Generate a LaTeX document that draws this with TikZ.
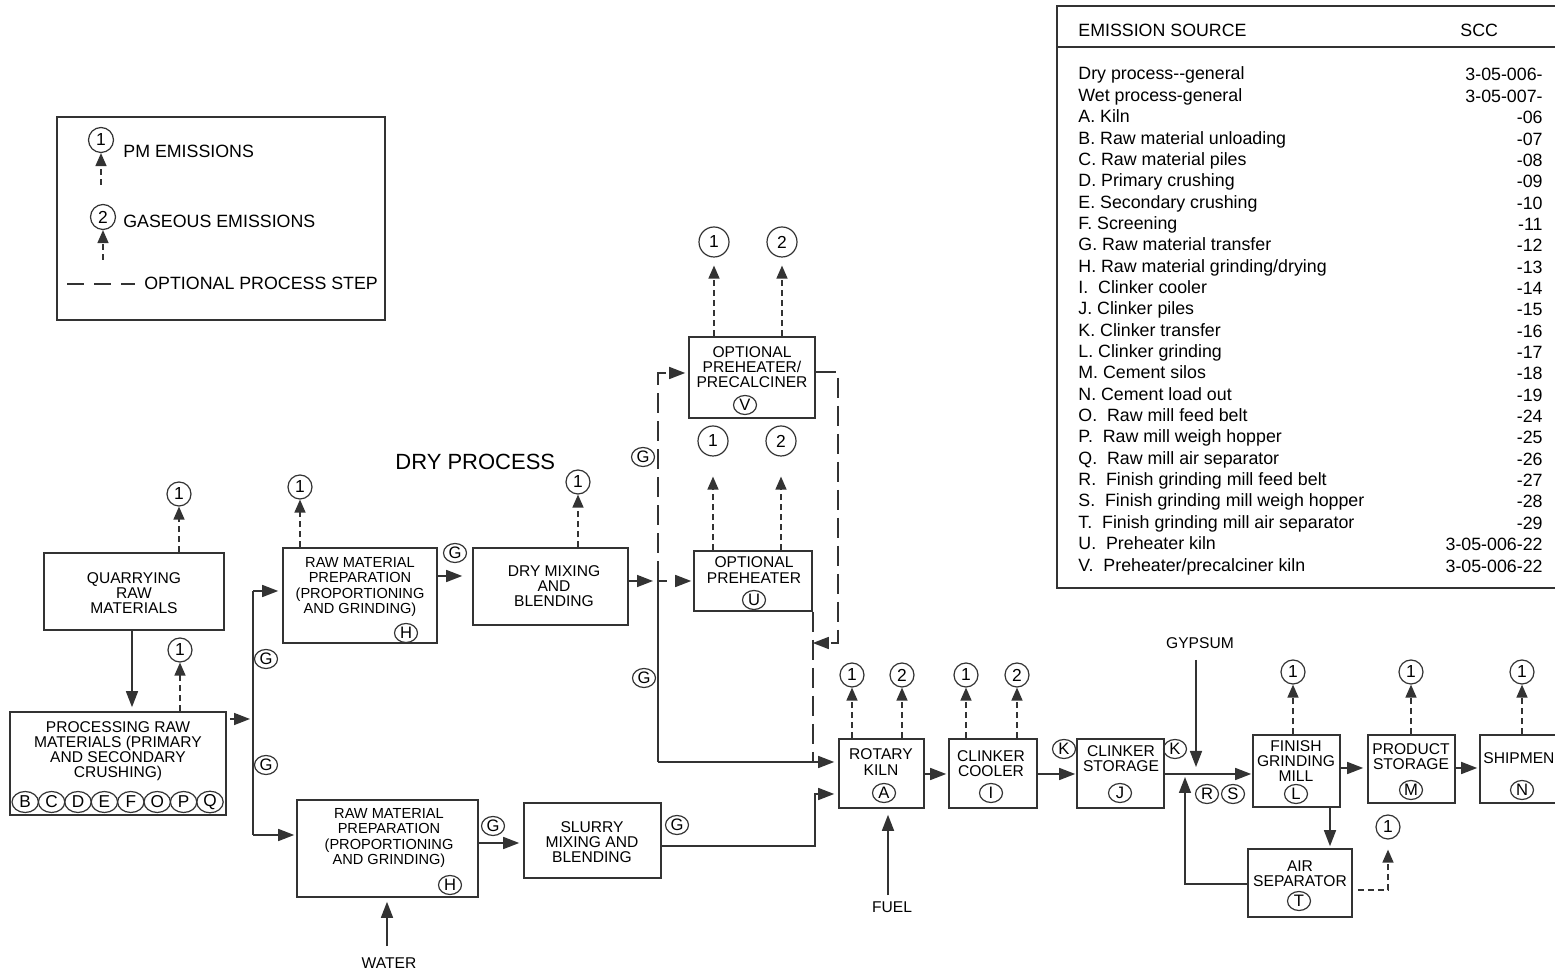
\documentclass[tikz,border=0pt]{standalone}
\usepackage{fontspec}
\setmainfont{Liberation Sans}
\usetikzlibrary{arrows.meta,shapes.geometric,fit,calc}

\newcommand{\boxsize}{\fontsize{7.8}{7.6}\selectfont}
\newcommand{\rmpsize}{\fontsize{7.3}{7.6}\selectfont}

\begin{document}
\begin{tikzpicture}[x=0.5pt,y=-0.5pt,
  box/.style={draw=black!80,line width=0.8pt,rectangle,inner sep=0pt},
  btxt/.style={align=center,inner sep=0pt,font=\boxsize},
  rtxt/.style={align=center,inner sep=0pt,font=\rmpsize},
  emc/.style={circle,draw=black!80,line width=0.6pt,minimum size=12pt,inner sep=0pt,font=\fontsize{8.7}{8.7}\selectfont},
  emcl/.style={emc,minimum size=15pt},
  mk/.style={ellipse,draw=black!80,line width=0.6pt,minimum width=11.5pt,minimum height=9.5pt,inner sep=0pt,font=\fontsize{8.3}{8.3}\selectfont},
  mkrow/.style={mk,minimum width=13.2pt,minimum height=10.5pt,font=\fontsize{8.6}{8.6}\selectfont},
  wire/.style={draw=black!80,line width=0.75pt},
  flow/.style={wire,-{Triangle[length=8pt,width=6pt]}},
  emis/.style={wire,dash pattern=on 3pt off 2pt,-{Triangle[length=6.5pt,width=5.5pt]}},
  opt/.style={wire,dash pattern=on 10pt off 4pt},
  optflow/.style={opt,-{Triangle[length=8pt,width=6pt]}},
  lgtxt/.style={anchor=base west,inner sep=0pt,font=\fontsize{8.9}{8.9}\selectfont},
  tl/.style={anchor=base west,inner sep=0pt,font=\fontsize{8.9}{8.9}\selectfont},
  tr/.style={anchor=base east,inner sep=0pt,font=\fontsize{8.9}{8.9}\selectfont},
  inlbl/.style={inner sep=0pt,font=\boxsize},
]
\useasboundingbox (0,0) rectangle (1555,972);
\clip (0,0) rectangle (1555,972);
\fill[white] (0,0) rectangle (1555,972);

% ---------------- legend ----------------
\node[box,fit={(57,117) (385,320)}] (legend) {};
\node[emc,minimum size=12.5pt] (lg1) at (101,140) {1};
\coordinate (lg1s) at (101,185);
\draw[emis] (lg1s) -- (lg1.south);
\node[lgtxt] (lgt1) at (123,158) {PM EMISSIONS};
\node[emc,minimum size=12.5pt] (lg2) at (103,217) {2};
\coordinate (lg2s) at (103,260);
\draw[emis] (lg2s) -- (lg2.south);
\node[lgtxt] (lgt2) at (123,228) {GASEOUS EMISSIONS};
\coordinate (lgd1) at (67,284);
\coordinate (lgd2) at (135,284);
\draw[wire,dash pattern=on 8.5pt off 5pt] (lgd1) -- (lgd2);
\node[lgtxt] (lgt3) at (144,290) {OPTIONAL PROCESS STEP};

% ---------------- SCC table ----------------
\node[box,fit={(1057,6) (1600,588)}] (tbl) {};
\draw[wire] (tbl.west |- 0,47) -- (tbl.east |- 0,47);
\node[tl] (th1) at (1078,37) {EMISSION SOURCE};
\node[tl] (th2) at (1460,37) {SCC};
\node[tl] (r0) at (1078,80) {Dry process-{}-general};      \node[tr] (s0) at (1543,81) {3-05-006-};
\node[tl] (r1) at (1078,101.35) {Wet process-general};      \node[tr] (s1) at (1543,102.35) {3-05-007-};
\node[tl] (r2) at (1078,122.7) {A. Kiln};                   \node[tr] (s2) at (1543,123.7) {-06};
\node[tl] (r3) at (1078,144.05) {B. Raw material unloading};\node[tr] (s3) at (1543,145.05) {-07};
\node[tl] (r4) at (1078,165.4) {C. Raw material piles};     \node[tr] (s4) at (1543,166.4) {-08};
\node[tl] (r5) at (1078,186.75) {D. Primary crushing};      \node[tr] (s5) at (1543,187.75) {-09};
\node[tl] (r6) at (1078,208.1) {E. Secondary crushing};     \node[tr] (s6) at (1543,209.1) {-10};
\node[tl] (r7) at (1078,229.45) {F. Screening};             \node[tr] (s7) at (1543,230.45) {-11};
\node[tl] (r8) at (1078,250.8) {G. Raw material transfer};  \node[tr] (s8) at (1543,251.8) {-12};
\node[tl] (r9) at (1078,272.15) {H. Raw material grinding/drying}; \node[tr] (s9) at (1543,273.15) {-13};
\node[tl] (r10) at (1078,293.5) {I.\ \ Clinker cooler};     \node[tr] (s10) at (1543,294.5) {-14};
\node[tl] (r11) at (1078,314.85) {J. Clinker piles};        \node[tr] (s11) at (1543,315.85) {-15};
\node[tl] (r12) at (1078,336.2) {K. Clinker transfer};      \node[tr] (s12) at (1543,337.2) {-16};
\node[tl] (r13) at (1078,357.55) {L. Clinker grinding};     \node[tr] (s13) at (1543,358.55) {-17};
\node[tl] (r14) at (1078,378.9) {M. Cement silos};          \node[tr] (s14) at (1543,379.9) {-18};
\node[tl] (r15) at (1078,400.25) {N. Cement load out};      \node[tr] (s15) at (1543,401.25) {-19};
\node[tl] (r16) at (1078,421.6) {O.\ \ Raw mill feed belt}; \node[tr] (s16) at (1543,422.6) {-24};
\node[tl] (r17) at (1078,442.95) {P.\ \ Raw mill weigh hopper}; \node[tr] (s17) at (1543,443.95) {-25};
\node[tl] (r18) at (1078,464.3) {Q.\ \ Raw mill air separator}; \node[tr] (s18) at (1543,465.3) {-26};
\node[tl] (r19) at (1078,485.65) {R.\ \ Finish grinding mill feed belt}; \node[tr] (s19) at (1543,486.65) {-27};
\node[tl] (r20) at (1078,507) {S.\ \ Finish grinding mill weigh hopper}; \node[tr] (s20) at (1543,508) {-28};
\node[tl] (r21) at (1078,528.35) {T.\ \ Finish grinding mill air separator}; \node[tr] (s21) at (1543,529.35) {-29};
\node[tl] (r22) at (1078,549.7) {U.\ \ Preheater kiln};     \node[tr] (s22) at (1543,550.7) {3-05-006-22};
\node[tl] (r23) at (1078,571.05) {V.\ \ Preheater/precalciner kiln}; \node[tr] (s23) at (1543,572.05) {3-05-006-22};

% ---------------- raw material handling ----------------
\node[box,fit={(44,553) (224,630)}] (quarry) {};
\node[btxt] (quarryT) at (134,593) {QUARRYING\\RAW\\MATERIALS};
\node[emc] (quarryE) at (179,494) {1};

\node[box,fit={(10,712) (226,815)}] (proc) {};
\node[btxt] (procT) at (118,751) {PROCESSING RAW\\MATERIALS (PRIMARY\\AND SECONDARY\\CRUSHING)};
\foreach \l [count=\k from 0] in {B,C,D,E,F,O,P,Q}
  \node[mkrow] (proc\l) at ({25.2+26.4*\k},802) {\l};
\node[emc] (procE) at (180,650) {1};

\node[mk] (gBus1) at (266,659) {G};
\node[mk] (gBus2) at (266,765) {G};

% ---------------- dry process ----------------
\node[anchor=base west,inner sep=0pt,font=\fontsize{11}{11}\selectfont] (drylbl) at (395,470) {DRY PROCESS};

\node[box,fit={(283,548) (437,643)}] (rmpd) {};
\node[rtxt] (rmpdT) at (360,587) {RAW MATERIAL\\PREPARATION\\(PROPORTIONING\\AND GRINDING)};
\node[mk] (rmpdH) at (406,633) {H};
\node[emc] (rmpdE) at (300,487) {1};
\node[mk] (gD1) at (455,553) {G};

\node[box,fit={(473,548) (628,625)}] (drymix) {};
\node[btxt] (drymixT) at (554,586) {DRY MIXING\\AND\\BLENDING};
\node[emc] (drymixE) at (578,482) {1};

\node[box,fit={(689,337) (815,418)}] (precalc) {};
\node[btxt] (precalcT) at (752,367) {OPTIONAL\\PREHEATER/\\PRECALCINER};
\node[mk] (precalcV) at (745,405) {V};
\node[emcl] (precalcE1) at (714,242) {1};
\node[emcl] (precalcE2) at (782,242) {2};

\node[box,fit={(694,551) (812,611)}] (preheat) {};
\node[btxt] (preheatT) at (754,570) {OPTIONAL\\PREHEATER};
\node[mk] (preheatU) at (754,600) {U};
\node[emcl] (preheatE1) at (713,441) {1};
\node[emcl] (preheatE2) at (781,441) {2};

\node[mk] (gO1) at (643,457) {G};
\node[mk] (gO2) at (644,678) {G};

% ---------------- wet process ----------------
\node[box,fit={(297,800) (478,897)}] (rmpw) {};
\node[rtxt] (rmpwT) at (389,838) {RAW MATERIAL\\PREPARATION\\(PROPORTIONING\\AND GRINDING)};
\node[mk] (rmpwH) at (450,885) {H};
\node[mk] (gW1) at (493,826) {G};
\node[box,fit={(524,803) (661,878)}] (slurry) {};
\node[btxt] (slurryT) at (592,842) {SLURRY\\MIXING AND\\BLENDING};
\node[mk] (gW2) at (677,825) {G};
\node[inlbl] (water) at (389,963) {WATER};

% ---------------- kiln and finishing ----------------
\node[box,fit={(839,739) (924,808)}] (kiln) {};
\node[btxt] (kilnT) at (881,762) {ROTARY\\KILN};
\node[mk] (kilnA) at (884,793) {A};
\node[emc] (kilnE1) at (852,675) {1};
\node[emc] (kilnE2) at (902,675) {2};
\node[inlbl] (fuel) at (892,907) {FUEL};

\node[box,fit={(949,739) (1037,808)}] (cooler) {};
\node[btxt] (coolerT) at (991,764) {CLINKER\\COOLER};
\node[mk] (coolerI) at (991,793) {I};
\node[emc] (coolerE1) at (966,675) {1};
\node[emc] (coolerE2) at (1017,675) {2};

\node[box,fit={(1077,739) (1164,808)}] (store) {};
\node[btxt] (storeT) at (1121,759) {CLINKER\\STORAGE};
\node[mk] (storeJ) at (1120,793) {J};
\node[mk] (kIn) at (1064,749) {K};
\node[mk] (kOut) at (1175,749) {K};
\node[inlbl] (gyps) at (1200,643) {GYPSUM};
\node[mk] (mR) at (1207,794) {R};
\node[mk] (mS) at (1233,794) {S};

\node[box,fit={(1253,735) (1340,807)}] (fgm) {};
\node[btxt] (fgmT) at (1296,761) {FINISH\\GRINDING\\MILL};
\node[mk] (fgmL) at (1296,794) {L};
\node[emc] (fgmE) at (1293,672) {1};

\node[box,fit={(1248,849) (1352,917)}] (airsep) {};
\node[btxt] (airsepT) at (1300,874) {AIR\\SEPARATOR};
\node[mk] (airsepMk) at (1299,901) {T};
\node[emc] (airsepE) at (1388,827) {1};

\node[box,fit={(1368,735) (1455,803)}] (prod) {};
\node[btxt] (prodT) at (1411,757) {PRODUCT\\STORAGE};
\node[mk] (prodM) at (1411,790) {M};
\node[emc] (prodE) at (1411,672) {1};

\node[box,fit={(1480,735) (1600,803)}] (ship) {};
\node[btxt,anchor=west] (shipT) at (1483,758) {SHIPMEN};
\node[mk] (shipN) at (1522,790) {N};
\node[emc] (shipE) at (1522,672) {1};

% ---------------- emission arrows ----------------
\foreach \b/\e in {quarry/quarryE, proc/procE, rmpd/rmpdE, drymix/drymixE,
                   kiln/kilnE1, kiln/kilnE2, cooler/coolerE1, cooler/coolerE2,
                   fgm/fgmE, prod/prodE, ship/shipE}
  \draw[emis] (\e |- \b.north) -- (\e.south);
\draw[emis,shorten >=4pt] (precalcE1 |- precalc.north) -- (precalcE1.south);
\draw[emis,shorten >=4pt] (precalcE2 |- precalc.north) -- (precalcE2.south);
\draw[emis,shorten >=10pt] (preheatE1 |- preheat.north) -- (preheatE1.south);
\draw[emis,shorten >=10pt] (preheatE2 |- preheat.north) -- (preheatE2.south);
\draw[emis,shorten <=2.5pt,shorten >=5pt] (airsep.east |- 0,890) -- (airsepE |- 0,890) -- (airsepE.south);

% ---------------- material flow ----------------
\draw[flow,shorten >=2pt] (quarry.south -| 132,0) -- (proc.north -| 132,0);

\coordinate (busIn) at (253,719);
\coordinate (busTop) at (253,591);
\coordinate (busBot) at (253,835);
\draw[flow,shorten >=1.5pt,shorten <=1.5pt] (proc.east |- busIn) -- (busIn);
\draw[wire] (busTop) -- (busBot);
\draw[flow,shorten >=2pt] (busTop) -- (busTop -| rmpd.west);
\draw[flow,shorten >=1pt] (busBot) -- (busBot -| rmpw.west);

\draw[flow,shorten >=5pt] (rmpd.east |- 0,576) -- (drymix.west |- 0,576);

\coordinate (dsplit) at (658,581);
\coordinate (dcorner) at (658,762);
\coordinate (dtop) at (658,373);
\draw[flow,shorten >=2.5pt] (drymix.east |- dsplit) -- (dsplit);
\draw[wire] (dsplit) -- (dcorner);
\draw[flow,shorten >=2pt] (dcorner) -- (dcorner -| kiln.west);
\draw[optflow,shorten >=1.5pt] (dsplit) -- (dtop) -- (dtop -| precalc.west);
\draw[optflow,dash pattern=on 4.5pt off 4pt,shorten >=1pt] (dsplit) -- (dsplit -| preheat.west);

\coordinate (pr1) at (838,372);
\coordinate (pr2) at (838,643);
\draw[optflow] (precalc.east |- pr1) -- (pr1) -- (pr2) -- (pr2 -| preheat.east);
\draw[opt] (preheat.south east) -- (preheat.south east |- dcorner);

\draw[flow,shorten >=2pt] (rmpw.east |- 0,843) -- (slurry.west |- 0,843);
\coordinate (sl1) at (815,846);
\coordinate (sl2) at (815,794);
\draw[flow,shorten >=2pt] (slurry.east |- sl1) -- (sl1) -- (sl2) -- (sl2 -| kiln.west);
\draw[flow,shorten >=2pt,shorten <=5.5pt] (water.north -| 387,0) -- (rmpw.south -| 387,0);
\draw[flow,shorten >=3pt,shorten <=3pt] (fuel.north -| 888,0) -- (kiln.south -| 888,0);

\draw[flow,shorten >=1pt] (kiln.east |- 0,774) -- (cooler.west |- 0,774);
\draw[flow,shorten >=0.5pt] (cooler.east |- 0,774) -- (store.west |- 0,774);
\coordinate (gj) at (1196,774);
\draw[flow,shorten >=0.5pt] (store.east |- gj) -- (fgm.west |- gj);
\draw[flow,shorten >=3.5pt,shorten <=5.5pt] (gyps.south -| gj) -- (gj);
\coordinate (rt) at (1185,884);
\draw[flow,shorten >=1.5pt] (airsep.west |- rt) -- (rt) -- (rt |- gj);
\draw[flow,shorten >=1pt] (fgm.south -| 1330,0) -- (airsep.north -| 1330,0);
\draw[flow,shorten >=2pt] (fgm.east |- 0,768) -- (prod.west |- 0,768);
\draw[flow,shorten >=1pt] (prod.east |- 0,768) -- (ship.west |- 0,768);
\end{tikzpicture}
\end{document}
